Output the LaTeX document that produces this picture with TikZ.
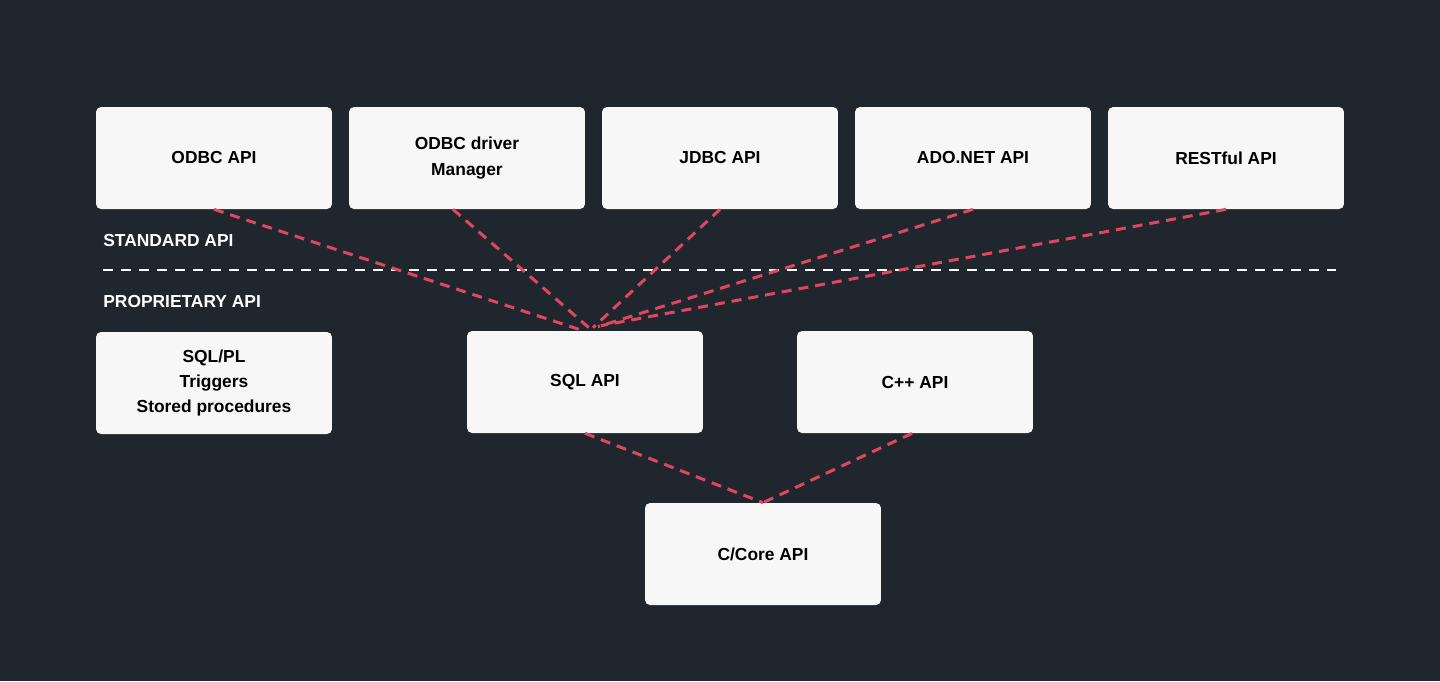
\documentclass[tikz,border=0pt]{standalone}
\usepackage{fontspec}
\setmainfont{Liberation Sans}
\usepackage{tikz}
\usetikzlibrary{positioning}
\definecolor{bgdark}{HTML}{1F262E}
\definecolor{boxfill}{HTML}{F7F7F7}
\definecolor{linkred}{HTML}{E0475F}
\tikzset{
apibox/.style={shape=rectangle, rounded corners=0.1cm, fill=boxfill, draw=none,
    minimum width=4.72cm, minimum height=2.04cm, align=center, text=black,
    font=\fontsize{9.9}{14.5}\selectfont\bfseries},
layerlabel/.style={anchor=west, text=white, inner sep=0pt,
    font=\fontsize{9.9}{12}\selectfont\bfseries},
link/.style={draw=linkred, line width=1.7pt, dash pattern=on 0.2cm off 0.14cm},
divider/.style={draw=white, line width=1.1pt, dash pattern=on 0.2cm off 0.16cm}}

\begin{document}
\begin{tikzpicture}[x=0.02cm, y=-0.02cm]

                \fill[bgdark] (0,0) rectangle (1440,681);
                \useasboundingbox (0,0) rectangle (1440,681);

                \node[apibox] (odbc) at (214,158) {ODBC API};
                \node[apibox] (drvmgr) at (467,158) {ODBC driver\\Manager};
                \node[apibox] (jdbc) at (720,158) {JDBC API};
                \node[apibox] (adonet) at (973,158) {ADO.NET API};
                \node[apibox] (rest) at (1226,158) {RESTful API};
                \node[apibox] (sqlpl) at (214,383) {SQL/PL\\Triggers\\Stored procedures};
                \node[apibox] (sqlapi) at (585,382) {SQL API};
                \node[apibox] (cppapi) at (915,382) {C++ API};
                \node[apibox] (core) at (763,554) {C/Core API};

                \node[layerlabel] (stdlabel) at (103,241) {STANDARD API};
                \node[layerlabel] (proplabel) at (103,301) {PROPRIETARY API};
                \coordinate (divleft) at (103,270);
                \coordinate (divright) at (1336,270);
                \draw[divider] (divleft) -- (divright);

                \draw[link] (odbc.south) -- ([xshift=-0.04cm]sqlapi.north);
                \draw[link] ([xshift=-0.28cm]drvmgr.south) -- ([xshift=0.1cm,yshift=0.04cm]sqlapi.north);
                \draw[link] (jdbc.south) -- ([xshift=0.16cm,yshift=0.06cm]sqlapi.north);
                \draw[link] (adonet.south) -- ([xshift=0.26cm,yshift=0.08cm]sqlapi.north);
                \draw[link] (rest.south) -- ([xshift=0.32cm,yshift=0.1cm]sqlapi.north);
                \draw[link] (sqlapi.south) -- (core.north);
                \draw[link] ([xshift=-0.06cm]cppapi.south) -- (core.north);

\end{tikzpicture}
\end{document}
